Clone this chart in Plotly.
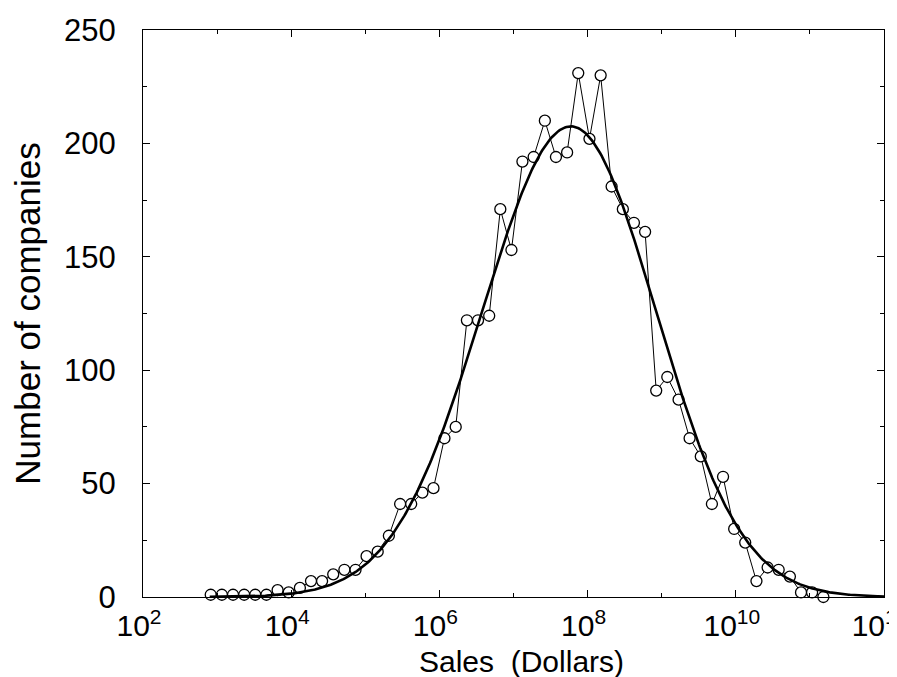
import numpy as np
import plotly.graph_objects as go

# Data (bin centres in dollars, number of companies)
sales = [8.2e2, 1.16e3, 1.64e3, 2.32e3, 3.27e3, 4.63e3, 6.55e3, 9.25e3,
         1.31e4, 1.85e4, 2.61e4, 3.69e4, 5.22e4, 7.38e4, 1.04e5, 1.47e5,
         2.08e5, 2.95e5, 4.16e5, 5.89e5, 8.32e5, 1.17e6, 1.66e6, 2.35e6,
         3.32e6, 4.70e6, 6.64e6, 9.38e6, 1.32e7, 1.87e7, 2.65e7, 3.74e7,
         5.29e7, 7.48e7, 1.06e8, 1.50e8, 2.11e8, 2.99e8, 4.22e8, 5.97e8,
         8.43e8, 1.19e9, 1.69e9, 2.38e9, 3.37e9, 4.76e9, 6.73e9, 9.51e9,
         1.34e10, 1.90e10, 2.69e10, 3.79e10, 5.37e10, 7.59e10, 1.07e11, 1.52e11]
companies = [1, 1, 1, 1, 1, 1, 3, 2,
             4, 7, 7, 10, 12, 12, 18, 20,
             27, 41, 41, 46, 48, 70, 75, 122,
             122, 124, 171, 153, 192, 194, 210, 194,
             196, 231, 202, 230, 181, 171, 165, 161,
             91, 97, 87, 70, 62, 41, 53, 30,
             24, 7, 13, 12, 9, 2, 2, 0]

# Log-normal fit parameters
FIT_PEAK = 207.5
FIT_CENTER_LOG10 = 7.776
FIT_SIGMA_LEFT = 1.20
FIT_SIGMA_RIGHT = 1.15
FIT_RANGE_LOG10 = (2.9, 12.0)

x_tick_vals = [1e2, 1e4, 1e6, 1e8, 1e10, 1e12]
x_tick_text = ["10<sup>2</sup>", "10<sup>4</sup>", "10<sup>6</sup>",
               "10<sup>8</sup>", "10<sup>10</sup>", "10<sup>12</sup>"]
x_minor_vals = [1e3, 1e5, 1e7, 1e9, 1e11]
y_tick_vals = [0, 50, 100, 150, 200, 250]

X_TITLE = "Sales\u00a0\u00a0(Dollars)"
Y_TITLE = "Number of companies"

fit_logx = np.linspace(FIT_RANGE_LOG10[0], FIT_RANGE_LOG10[1], 500)
fit_sigma = np.where(fit_logx < FIT_CENTER_LOG10, FIT_SIGMA_LEFT, FIT_SIGMA_RIGHT)
fit_x = 10 ** fit_logx
fit_y = FIT_PEAK * np.exp(-(fit_logx - FIT_CENTER_LOG10) ** 2 / (2 * fit_sigma ** 2))

FONT = "Liberation Sans, Arial, Helvetica, sans-serif"

fig = go.Figure()
fig.add_trace(go.Scatter(
    x=sales, y=companies, mode="lines+markers",
    line=dict(color="black", width=1),
    marker=dict(symbol="circle", size=11, color="white",
                line=dict(color="black", width=1.3)),
    showlegend=False, cliponaxis=False))
fig.add_trace(go.Scatter(
    x=fit_x, y=fit_y, mode="lines",
    line=dict(color="black", width=2.6),
    showlegend=False))

fig.update_layout(
    width=897, height=677,
    margin=dict(l=135, r=21, t=22, b=88),
    paper_bgcolor="white", plot_bgcolor="white",
    font=dict(family=FONT, color="black", size=31),
    xaxis=dict(
        type="log", range=[1.9999, 12.0001], automargin=False,
        tickmode="array", tickvals=x_tick_vals, ticktext=x_tick_text,
        ticks="inside", ticklen=7, tickwidth=1, tickcolor="black",
        showline=True, linecolor="black", linewidth=1.3, mirror="ticks",
        showgrid=False, zeroline=False,
        tickfont=dict(size=30),
        ticklabelstandoff=2,
        ticklabelshift=-4,
        ticklabeloverflow="allow",
        minor=dict(tickmode="array", tickvals=x_minor_vals, ticks="inside",
                   ticklen=4, tickcolor="black", showgrid=False),
    ),
    yaxis=dict(
        range=[0, 250], automargin=False,
        tickmode="array", tickvals=y_tick_vals,
        ticks="inside", ticklen=7, tickwidth=1, tickcolor="black",
        showline=True, linecolor="black", linewidth=1.3, mirror="ticks",
        showgrid=False, zeroline=False,
        tickfont=dict(size=31),
        ticklabelstandoff=20,
        minor=dict(dtick=25, ticks="inside", ticklen=4, tickcolor="black",
                   showgrid=False),
        title=dict(text=Y_TITLE, font=dict(size=35), standoff=16),
    ),
    annotations=[dict(
        text=X_TITLE, xref="paper", yref="paper", x=0.5, y=0,
        xanchor="center", yanchor="bottom", xshift=8, yshift=-83,
        showarrow=False, font=dict(size=30, family=FONT, color="black"))],
)

fig.write_html("out.html")
